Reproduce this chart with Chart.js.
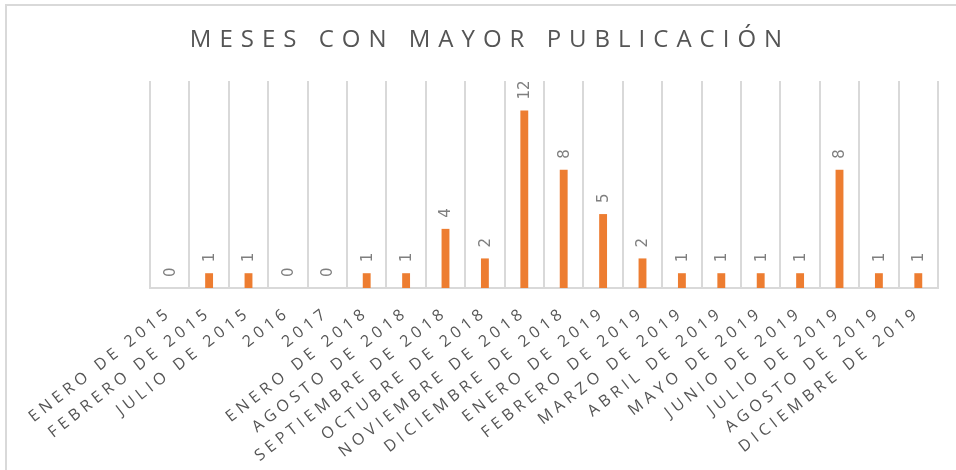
<!DOCTYPE html>
<html>
<head>
<meta charset="utf-8">
<script src="https://cdn.jsdelivr.net/npm/chart.js@4.4.0/dist/chart.umd.min.js"></script>
<style>
    html, body { margin: 0; padding: 0; background: #FFFFFF; }
    #wrap { width: 956px; height: 470px; }
</style>
</head>
<body>
<div id="wrap"><canvas id="chart" width="956" height="470"></canvas></div>
<script>
    // Datos
    const TITULO = 'MESES CON MAYOR PUBLICACIÓN';
    const MESES = [
        'ENERO DE 2015', 'FEBRERO DE 2015', 'JULIO DE 2015', '2016', '2017',
        'ENERO DE 2018', 'AGOSTO DE 2018', 'SEPTIEMBRE DE 2018', 'OCTUBRE DE 2018',
        'NOVIEMBRE DE 2018', 'DICIEMBRE DE 2018', 'ENERO DE 2019', 'FEBRERO DE 2019',
        'MARZO DE 2019', 'ABRIL DE 2019', 'MAYO DE 2019', 'JUNIO DE 2019',
        'JULIO DE 2019', 'AGOSTO DE 2019', 'DICIEMBRE DE 2019'
    ];
    const PUBLICACIONES = [0, 1, 1, 0, 0, 1, 1, 4, 2, 12, 8, 5, 2, 1, 1, 1, 1, 8, 1, 1];
    const Y_MIN = 0;
    const Y_MAX = 14;

    const GRIS_TEXTO = '#555555';
    const GRIS_LINEA = '#D9D9D9';
    const NARANJA = '#ED7D31';

    // Marco, título espaciado y etiquetas de datos estilo Excel
    const excelLook = {
        id: 'excelLook',
        beforeUpdate(chart) {
            chart.ctx.letterSpacing = '4.5px';
        },
        beforeDraw(chart) {
            const ctx = chart.ctx;
            ctx.letterSpacing = '4.5px';
            ctx.save();
            ctx.fillStyle = GRIS_LINEA;
            ctx.fillRect(5, 4, 951, 2);
            ctx.fillRect(5, 4, 2, 466);

            ctx.letterSpacing = '8px';
            ctx.font = '24px "Open Sans"';
            ctx.fillStyle = GRIS_TEXTO;
            ctx.textAlign = 'left';
            ctx.textBaseline = 'alphabetic';
            const w = ctx.measureText(TITULO).width - 8;
            ctx.fillText(TITULO, 486 - w / 2, 47);
            ctx.restore();
        },
        afterDatasetsDraw(chart) {
            const ctx = chart.ctx;
            const meta = chart.getDatasetMeta(0);
            meta.data.forEach((bar, i) => {
                ctx.save();
                ctx.letterSpacing = '0px';
                ctx.translate(bar.x + 1, bar.y - 11);
                ctx.rotate(-Math.PI / 2);
                ctx.font = '15px "DejaVu Sans"';
                ctx.fillStyle = '#7F7F7F';
                ctx.textAlign = 'left';
                ctx.textBaseline = 'middle';
                ctx.fillText(String(PUBLICACIONES[i]), 0, 0);
                ctx.restore();
            });
        }
    };

    new Chart(document.getElementById('chart'), {
        type: 'bar',
        data: {
            labels: MESES,
            datasets: [{
                label: 'Publicaciones',
                data: PUBLICACIONES,
                backgroundColor: NARANJA,
                borderWidth: 0,
                categoryPercentage: 1,
                barPercentage: 0.2
            }]
        },
        options: {
            responsive: false,
            animation: false,
            layout: { padding: { left: 150, right: 18, top: 81, bottom: 0 } },
            plugins: {
                legend: { display: false },
                title: { display: false },
                tooltip: { enabled: false }
            },
            scales: {
                x: {
                    grid: { offset: true, color: GRIS_LINEA, lineWidth: 2, drawTicks: false },
                    border: { color: GRIS_LINEA, width: 2 },
                    ticks: {
                        color: GRIS_TEXTO,
                        font: { family: '"Open Sans"', size: 16 },
                        minRotation: 38,
                        maxRotation: 38,
                        autoSkip: false,
                        padding: 15
                    },
                    afterFit(scale) { scale.height = 182; }
                },
                y: {
                    display: false,
                    min: Y_MIN,
                    max: Y_MAX
                }
            }
        },
        plugins: [excelLook]
    });
</script>
</body>
</html>
